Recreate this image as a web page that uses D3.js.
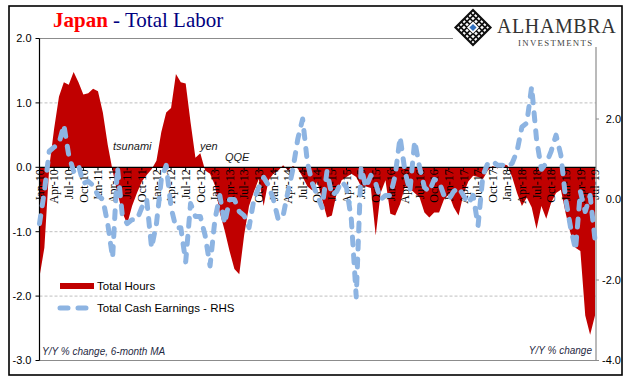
<!DOCTYPE html>
<html><head><meta charset="utf-8">
<script src="https://cdn.jsdelivr.net/npm/d3@7"></script>
<style>body{margin:0;background:#fff}</style>
</head><body>
<svg id="c" width="641" height="381"></svg>
<script>
// ---- data ----
const tickLabels = ["Jan-10","Apr-10","Jul-10","Oct-10","Jan-11","Apr-11","Jul-11","Oct-11",
  "Jan-12","Apr-12","Jul-12","Oct-12","Jan-13","Apr-13","Jul-13","Oct-13",
  "Jan-14","Apr-14","Jul-14","Oct-14","Jan-15","Apr-15","Jul-15","Oct-15",
  "Jan-16","Apr-16","Jul-16","Oct-16","Jan-17","Apr-17","Jul-17","Oct-17",
  "Jan-18","Apr-18","Jul-18","Oct-18","Jan-19","Apr-19","Jul-19"];
// Total Hours, Y/Y % (6-month MA), monthly Jan-10 .. Jul-19 (left axis)
const totalHours = [
 -1.70,-1.25,0.00,0.60,1.10,1.32,1.28,1.48,1.32,1.13,1.15,1.22,
  1.18,0.85,0.35,-0.05,-0.40,-0.70,-0.88,-0.60,-0.40,-0.22,-0.12,-0.03,
  0.10,0.55,0.85,0.92,1.45,1.32,1.30,0.70,0.15,0.22,-0.05,-0.10,
 -0.28,-0.70,-0.98,-1.30,-1.58,-1.66,-1.05,-0.60,-0.38,-0.18,-0.60,-0.20,
 -0.10,-0.05,0.03,-0.05,0.02,-0.02,-0.15,-0.30,-0.36,-0.22,-0.50,-0.78,
 -0.75,-0.40,-0.20,-0.15,-0.10,-0.15,-0.30,-0.30,-0.32,-1.06,-0.40,-0.20,
 -0.72,-0.75,-0.57,-0.30,-0.33,-0.40,-0.47,-0.70,-0.78,-0.70,-0.70,-0.50,
 -0.42,-0.62,-0.75,-0.42,-0.22,-0.13,-0.15,-0.18,-0.05,0.02,-0.02,0.05,
  0.03,-0.15,-0.40,-0.60,-0.47,-0.62,-0.96,-0.60,-0.80,-0.55,-0.40,-0.35,
 -0.72,-1.03,-1.25,-1.30,-2.30,-2.60,-2.30];
// Total Cash Earnings, Y/Y % (right axis)
const cashEarnings = [
 -0.60,0.20,1.20,1.30,1.40,1.85,1.10,0.70,0.85,0.40,0.45,0.35,
  0.10,0.00,-0.60,-1.45,0.80,-0.40,-0.60,-0.50,-0.50,-0.20,0.00,-1.20,
 -0.60,0.50,0.85,-0.20,-0.70,-0.70,-1.55,-0.10,-0.42,-0.42,-0.90,-1.65,
 -0.50,0.10,-0.60,0.00,0.00,-0.30,-0.40,-0.70,0.00,0.30,0.55,0.35,
  0.00,-0.50,-0.40,0.20,0.75,1.50,2.00,0.90,0.40,0.10,-0.20,0.70,
  0.10,0.20,0.45,0.30,-0.50,-2.42,0.80,0.30,0.60,0.40,0.00,0.10,
  0.10,0.60,1.55,0.70,0.20,1.45,0.80,0.30,0.20,0.50,0.45,0.10,
  0.00,0.20,0.30,0.10,-0.10,0.10,-0.65,0.60,0.90,0.95,0.85,0.85,
  0.80,0.90,1.20,1.80,1.90,2.80,1.50,0.75,0.90,1.20,1.60,1.10,
  0.00,-0.70,-1.25,0.20,-0.30,0.10,-1.00];
const leftTicks = [2,1,0,-1,-2,-3];
const rightTicks = [2,0,-2,-4];
const gridVals = [1,-1,-2];

// ---- chart ----
const svg = d3.select('#c');
const x = d3.scaleLinear().domain([0, totalHours.length-1]).range([39.5, 595]);
const yL = d3.scaleLinear().domain([-3, 2]).range([360.5, 38.5]);
const yR = d3.scaleLinear().domain([-4, 4]).range([360.5, 38.5]);
const X0 = 39.5, X1 = 596;

svg.append('rect').attr('width',641).attr('height',381).attr('fill','#fff');

// gridlines
svg.selectAll('.g').data(gridVals).enter().append('line')
  .attr('x1',X0).attr('x2',X1).attr('y1',d=>yL(d)).attr('y2',d=>yL(d))
  .attr('stroke','#bfbfbf').attr('stroke-dasharray','3,2').attr('stroke-width',1);
[2,-3].forEach(v=>svg.append('line').attr('x1',X0).attr('x2',X1+2)
  .attr('y1',yL(v)).attr('y2',yL(v)).attr('stroke','#8c8c8c').attr('stroke-width',1.2));

// red area
const area = d3.area().x((d,i)=>x(i)).y0(yL(0)).y1(d=>yL(d));
svg.append('path').datum(totalHours).attr('d',area).attr('fill','#c00000');

// zero axis
svg.append('line').attr('x1',X0).attr('x2',X1).attr('y1',yL(0)).attr('y2',yL(0))
  .attr('stroke','#000').attr('stroke-width',1.3);
const xt = svg.append('g');
tickLabels.forEach((t,k)=>{
  const xi = x(k*3);
  xt.append('line').attr('x1',xi).attr('x2',xi).attr('y1',yL(0)).attr('y2',yL(0)+3)
    .attr('stroke','#000');
  xt.append('text').attr('transform',`translate(${xi},${yL(0)+2}) rotate(-90)`)
    .attr('text-anchor','end').attr('dy','0.35em')
    .attr('font-family','Liberation Serif, serif').attr('font-size',12).attr('fill','#000')
    .text(t);
});

// left axis
svg.append('line').attr('x1',X0).attr('x2',X0).attr('y1',yL(2)).attr('y2',yL(-3))
  .attr('stroke','#000').attr('stroke-width',1.2);
leftTicks.forEach(v=>{
  svg.append('line').attr('x1',X0-4).attr('x2',X0).attr('y1',yL(v)).attr('y2',yL(v)).attr('stroke','#000');
  svg.append('text').attr('x',31.5).attr('y',yL(v)).attr('dy','0.35em').attr('text-anchor','end')
    .attr('font-family','Liberation Sans, Arial, sans-serif').attr('font-size',11).attr('fill','#000')
    .text(v.toFixed(1));
});
// right axis
svg.append('line').attr('x1',X1).attr('x2',X1).attr('y1',47).attr('y2',yR(-4))
  .attr('stroke','#8c8c8c').attr('stroke-width',1.2);
rightTicks.forEach(v=>{
  svg.append('line').attr('x1',X1).attr('x2',X1+3).attr('y1',yR(v)).attr('y2',yR(v)).attr('stroke','#8c8c8c');
  svg.append('text').attr('x',621).attr('y',yR(v)).attr('dy','0.35em').attr('text-anchor','end')
    .attr('font-family','Liberation Sans, Arial, sans-serif').attr('font-size',11).attr('fill','#000')
    .text(v.toFixed(1));
});

// blue dashed line
const line = d3.line().x((d,i)=>x(i)).y(d=>yR(d));
svg.append('path').datum(cashEarnings).attr('d',line).attr('fill','none')
  .attr('stroke','#8db4e2').attr('stroke-width',5).attr('stroke-linecap','round')
  .attr('stroke-linejoin','round').attr('stroke-dasharray','8,10');

// annotations
const ann = [["tsunami",113,150],["yen",200,150],["QQE",225,161]];
ann.forEach(a=>svg.append('text').attr('x',a[1]).attr('y',a[2])
  .attr('font-family','Liberation Sans, Arial, sans-serif').attr('font-style','italic')
  .attr('font-size',11).attr('fill','#1a1a1a').text(a[0]));
svg.append('text').attr('x',42).attr('y',355).attr('font-family','Liberation Sans, Arial, sans-serif')
  .attr('font-style','italic').attr('font-size',10).attr('fill','#1f2a44').text('Y/Y % change, 6-month MA');
svg.append('text').attr('x',592).attr('y',354).attr('text-anchor','end').attr('font-family','Liberation Sans, Arial, sans-serif')
  .attr('font-style','italic').attr('font-size',10).attr('fill','#1f2a44').text('Y/Y % change');

// legend
svg.append('rect').attr('x',60).attr('y',283).attr('width',34).attr('height',6).attr('fill','#c00000');
svg.append('text').attr('x',97).attr('y',290).attr('font-family','Liberation Sans, Arial, sans-serif')
  .attr('font-size',11.5).attr('fill','#000').text('Total Hours');
svg.append('line').attr('x1',60).attr('x2',95).attr('y1',308).attr('y2',308)
  .attr('stroke','#8db4e2').attr('stroke-width',5).attr('stroke-linecap','round').attr('stroke-dasharray','8,10');
svg.append('text').attr('x',97).attr('y',312).attr('font-family','Liberation Sans, Arial, sans-serif')
  .attr('font-size',11.5).attr('fill','#000').text('Total Cash Earnings - RHS');

// title
const title = svg.append('text').attr('x',53).attr('y',27)
  .attr('font-family','Liberation Serif, serif').attr('font-size',21);
title.append('tspan').attr('fill','#ff0000').attr('font-weight','bold').text('Japan');
title.append('tspan').attr('fill','#000080').text(' - Total Labor');

// logo
const lg = svg.append('g');
lg.append('rect').attr('x',453).attr('y',7).attr('width',168).attr('height',40).attr('fill','#fff');
const cx=473, cy=27.5, r=17.5;
const dia = (s)=>`M${cx},${cy-s}L${cx+s},${cy}L${cx},${cy+s}L${cx-s},${cy}Z`;
lg.append('path').attr('d',dia(r)).attr('fill','#fff').attr('stroke','#111').attr('stroke-width',2.2);
const clip = svg.append('defs').append('clipPath').attr('id','dclip');
clip.append('path').attr('d',dia(r));
const lat = lg.append('g').attr('clip-path','url(#dclip)');
for(let k=-4;k<=4;k++){
  const o=k*6;
  lat.append('line').attr('x1',cx-30+o).attr('y1',cy-30).attr('x2',cx+30+o).attr('y2',cy+30).attr('stroke','#111').attr('stroke-width',1.6);
  lat.append('line').attr('x1',cx-30+o).attr('y1',cy+30).attr('x2',cx+30+o).attr('y2',cy-30).attr('stroke','#111').attr('stroke-width',1.6);
}
lg.append('path').attr('d',dia(6)).attr('fill','#fff');
lg.append('path').attr('d',dia(3.6)).attr('fill','#2f6fbf');
lg.append('text').attr('x',497).attr('y',32.5).attr('font-family','Liberation Serif, serif')
  .attr('font-size',20).attr('letter-spacing',0.6).attr('fill','#333').text('ALHAMBRA');
lg.append('text').attr('x',518).attr('y',45.5).attr('font-family','Liberation Serif, serif')
  .attr('font-size',8.8).attr('letter-spacing',1.3).attr('fill','#444').text('INVESTMENTS');

// outer border
svg.append('rect').attr('x',9).attr('y',6).attr('width',613).attr('height',369)
  .attr('fill','none').attr('stroke','#000').attr('stroke-width',1.6);
</script>
</body></html>
